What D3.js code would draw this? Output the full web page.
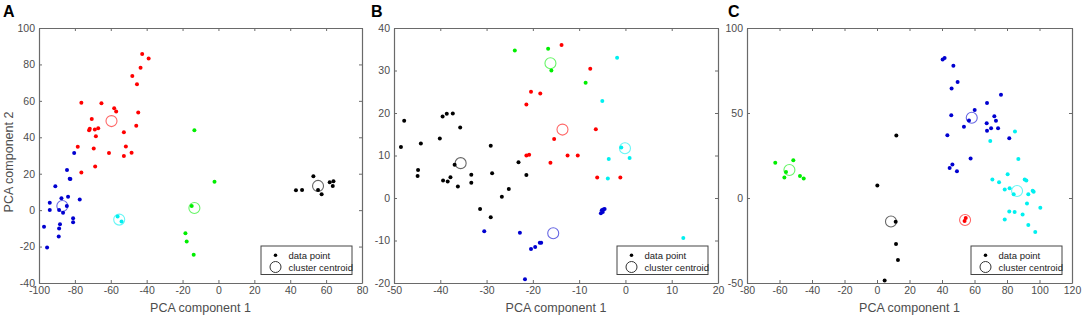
<!DOCTYPE html>
<html>
<head>
  <meta charset="utf-8">
  <title>PCA clusters</title>
  <style>
    body { margin: 0; background: #fff; }
    text { font-family: "Liberation Sans", Arial, sans-serif; }
  </style>
</head>
<body>
  <script src="https://d3js.org/d3.v7.min.js"></script>
  <script>
    // ---- panel A ----
    var aRed = [[-42.5,85.7],[-38.9,83.2],[-43.4,78.2],[-48.0,73.7],[-45.4,69.1],[-76.4,58.9],[-65.2,58.7],
      [-58.1,56.0],[-57.0,54.2],[-44.7,53.6],[-70.6,50.0],[-45.8,46.3],[-67.0,45.0],[-71.7,44.7],[-72.1,43.8],
      [-68.9,44.3],[-52.7,42.8],[-68.3,40.6],[-78.4,34.8],[-51.6,35.0],[-69.5,33.9],[-61.0,31.4],[-52.7,29.7],
      [-48.4,31.5],[-68.7,23.9],[-76.4,20.6]];
    var aBlue = [[-80.4,31.4],[-84.4,22.0],[-82.9,17.3],[-82.5,17.1],[-90.9,13.1],[-77.3,5.8],[-87.5,6.5],
      [-83.8,7.3],[-94.0,4.1],[-84.5,2.3],[-94.0,0.1],[-88.8,0.1],[-86.6,-1.4],[-81.0,-4.5],[-81.0,-6.6],
      [-97.2,-9.1],[-88.3,-7.7],[-88.8,-10.1],[-89.0,-14.5],[-95.5,-20.5]];
    var aCyan = [[-56.2,-3.5],[-54.0,-6.2]];
    var aGreen = [[-13.4,43.9],[-2.2,15.6],[-14.9,2.3],[-18.4,-12.7],[-17.7,-17.2],[-13.8,-24.5]];
    var aBlack = [[52.9,18.6],[62.0,15.3],[64.1,15.8],[63.7,13.3],[55.5,11.1],[57.5,8.7],[43.2,10.9],[46.6,11.1]];
    var aCentroids = [[-59.6,48.9,"red"],[-87.0,2.3,"blue"],[-55.3,-5.2,"cyan"],[-13.4,1.2,"green"],[55.5,13.3,"black"]];

    // ---- panel B ----
    var bBlack = [[-48.5,12.0],[-47.8,18.2],[-44.2,12.8],[-44.8,6.6],[-44.9,5.2],[-40.1,14.0],[-39.5,19.2],
      [-38.6,19.8],[-37.3,19.9],[-35.7,16.6],[-39.4,4.1],[-38.4,3.9],[-37.8,4.9],[-36.9,7.8],[-36.2,2.7],
      [-33.3,5.5],[-33.3,3.6],[-29.1,12.3],[-28.8,5.8],[-31.4,-2.6],[-29.1,-4.5],[-26.7,0.3],[-25.2,2.1],
      [-23.1,8.4],[-21.4,5.4]];
    var bRed = [[-13.8,36.0],[-7.6,30.4],[-20.4,25.0],[-18.4,24.6],[-21.4,22.0],[-6.4,16.2],[-15.4,13.9],
      [-21.4,10.0],[-20.8,10.2],[-12.5,10.0],[-10.3,10.0],[-16.2,8.3],[-6.1,4.8],[-1.1,4.8]];
    var bGreen = [[-23.9,34.7],[-16.7,35.1],[-16.0,30.0],[-8.6,27.1]];
    var bCyan = [[-1.8,33.0],[-5.0,22.8],[-0.9,11.9],[-3.6,9.2],[0.9,9.4],[-3.8,4.6],[12.5,-9.4]];
    var bBlue = [[-30.5,-7.8],[-22.8,-8.2],[-20.4,-12.0],[-19.5,-11.5],[-18.5,-10.5],[-18.2,-10.5],[-21.7,-19.1],
      [-5.3,-3.6],[-5.1,-2.9],[-4.8,-2.7],[-4.5,-2.6],[-4.9,-3.3]];
    var bCentroids = [[-35.6,8.2,"black"],[-13.6,16.1,"red"],[-16.2,31.7,"green"],[-0.1,11.7,"cyan"],[-15.6,-8.3,"blue"]];

    // ---- panel C ----
    var cGreen = [[-62.6,20.8],[-51.5,22.2],[-56.0,15.3],[-57.0,12.1],[-47.4,12.9],[-45.1,11.5]];
    var cBlack = [[11.9,36.7],[0.2,7.4],[11.5,-14.0],[11.7,-27.0],[12.9,-36.4],[4.7,-48.6]];
    var cRed = [[54.6,-11.8],[53.9,-13.6]];
    var cBlue = [[40.4,81.5],[41.6,82.3],[47.0,77.8],[49.6,68.3],[45.9,64.4],[76.3,60.8],[67.7,55.9],[60.1,51.8],
      [45.7,48.7],[72.2,48.1],[56.6,45.6],[67.5,44.0],[73.2,45.4],[53.5,41.9],[70.2,41.1],[74.5,41.0],[67.7,39.5],
      [43.3,36.9],[81.4,35.1],[57.6,23.3],[46.4,19.7],[44.7,17.7],[49.2,15.8]];
    var cCyan = [[84.9,39.1],[69.7,33.6],[87.0,22.9],[80.4,13.9],[71.0,10.9],[75.1,9.3],[90.9,10.9],[91.9,10.3],
      [78.6,5.0],[81.6,5.8],[84.1,2.2],[95.8,4.3],[96.4,3.7],[93.1,2.2],[92.3,-3.2],[100.5,-5.7],[81.4,-7.9],
      [84.7,-8.3],[89.6,-9.7],[78.6,-12.7],[93.1,-15.9],[97.4,-20.0]];
    var cCentroids = [[-53.9,16.5,"green"],[8.6,-13.8,"black"],[54.2,-12.9,"red"],[58.3,47.2,"blue"],[86.2,4.1,"cyan"]];

    // ticks
    var aXTicks = d3.range(-100, 81, 20), aYTicks = d3.range(-40, 101, 20);
    var bXTicks = d3.range(-50, 21, 10), bYTicks = d3.range(-20, 41, 10);
    var cXTicks = d3.range(-80, 121, 20), cYTicks = [-50, 0, 50, 100];

    var colors = { red: "#ff0000", blue: "#0000d0", cyan: "#00f0f0", green: "#00ee00", black: "#000000" };

    var panels = [
      { label: "A", lx: 3, left: 39, right: 362, xd: [-100, 80], yd: [-40, 100], xt: aXTicks, yt: aYTicks, ylab: true,
        groups: [[aRed, "red"], [aBlue, "blue"], [aCyan, "cyan"], [aGreen, "green"], [aBlack, "black"]], cent: aCentroids },
      { label: "B", lx: 371, left: 394, right: 718, xd: [-50, 20], yd: [-20, 40], xt: bXTicks, yt: bYTicks,
        groups: [[bBlack, "black"], [bRed, "red"], [bGreen, "green"], [bCyan, "cyan"], [bBlue, "blue"]], cent: bCentroids },
      { label: "C", lx: 728, left: 747, right: 1072, xd: [-80, 120], yd: [-50, 100], xt: cXTicks, yt: cYTicks,
        groups: [[cGreen, "green"], [cBlack, "black"], [cRed, "red"], [cBlue, "blue"], [cCyan, "cyan"]], cent: cCentroids }
    ];
    var plotTop = 28, plotBottom = 283;
    var fmt = d => String(d);

    var svg = d3.select("body").append("svg")
      .attr("width", 1084).attr("height", 322);
    svg.append("rect").attr("width", 1084).attr("height", 322).attr("fill", "#fff");

    panels.forEach(function (p) {
      var x = d3.scaleLinear().domain(p.xd).range([p.left, p.right]);
      var y = d3.scaleLinear().domain(p.yd).range([plotBottom, plotTop]);
      var g = svg.append("g");

      // axes (inward ticks on all four sides, matlab box)
      var styleAxis = function (sel) {
        sel.selectAll("path").attr("stroke", "#6a6a6a");
        sel.selectAll("line").attr("stroke", "#6a6a6a");
        sel.selectAll("text").attr("fill", "#4d4d4d")
          .style("font-size", "10.5px").style("font-family", "Liberation Sans, Arial, sans-serif");
      };
      g.append("g").attr("transform", `translate(0,${plotBottom})`)
        .call(d3.axisBottom(x).tickValues(p.xt).tickSize(-3).tickSizeOuter(0).tickPadding(4).tickFormat(fmt))
        .call(styleAxis);
      g.append("g").attr("transform", `translate(0,${plotTop})`)
        .call(d3.axisTop(x).tickValues(p.xt).tickSize(-3).tickSizeOuter(0).tickFormat(""))
        .call(styleAxis);
      g.append("g").attr("transform", `translate(${p.left},0)`)
        .call(d3.axisLeft(y).tickValues(p.yt).tickSize(-3).tickSizeOuter(0).tickPadding(4).tickFormat(fmt))
        .call(styleAxis);
      g.append("g").attr("transform", `translate(${p.right},0)`)
        .call(d3.axisRight(y).tickValues(p.yt).tickSize(-3).tickSizeOuter(0).tickFormat(""))
        .call(styleAxis);
      g.selectAll(".domain").attr("stroke-width", 1.2);

      // points
      p.groups.forEach(function (grp) {
        g.append("g").selectAll("circle").data(grp[0]).enter().append("circle")
          .attr("cx", d => x(d[0])).attr("cy", d => y(d[1])).attr("r", 2)
          .attr("fill", colors[grp[1]]);
      });
      // centroids
      g.append("g").selectAll("circle").data(p.cent).enter().append("circle")
        .attr("cx", d => x(d[0])).attr("cy", d => y(d[1])).attr("r", 5.5)
        .attr("fill", "none").attr("stroke", d => colors[d[2]])
        .attr("stroke-opacity", 0.6).attr("stroke-width", 1.1);

      // x label
      g.append("text").attr("x", (p.left + p.right) / 2).attr("y", 312)
        .attr("text-anchor", "middle").attr("fill", "#4d4d4d").style("font-size", "12.5px")
        .text("PCA component 1");
      if (p.ylab) {
        g.append("text").attr("transform", "translate(13,162) rotate(-90)")
          .attr("text-anchor", "middle").attr("fill", "#4d4d4d").style("font-size", "12.5px")
          .text("PCA component 2");
      }
      // panel letter
      g.append("text").attr("x", p.lx).attr("y", 17)
        .style("font-size", "16px").style("font-weight", "bold").attr("fill", "#000")
        .text(p.label);

      // legend
      var lx = p.right - 101, ly = plotBottom - 37;
      var lg = g.append("g").attr("transform", `translate(${lx},${ly})`);
      lg.append("rect").attr("width", 91).attr("height", 28.5)
        .attr("fill", "#fff").attr("stroke", "#444").attr("stroke-width", 1);
      lg.append("circle").attr("cx", 14.5).attr("cy", 9.3).attr("r", 1.8).attr("fill", "#000");
      lg.append("circle").attr("cx", 14.5).attr("cy", 21).attr("r", 5.5)
        .attr("fill", "none").attr("stroke", "#333").attr("stroke-width", 1);
      lg.append("text").attr("x", 27.5).attr("y", 12.5).style("font-size", "9.5px").attr("fill", "#222").text("data point");
      lg.append("text").attr("x", 27.5).attr("y", 24.5).style("font-size", "9.5px").attr("fill", "#222").text("cluster centroid");
    });
  </script>
</body>
</html>
